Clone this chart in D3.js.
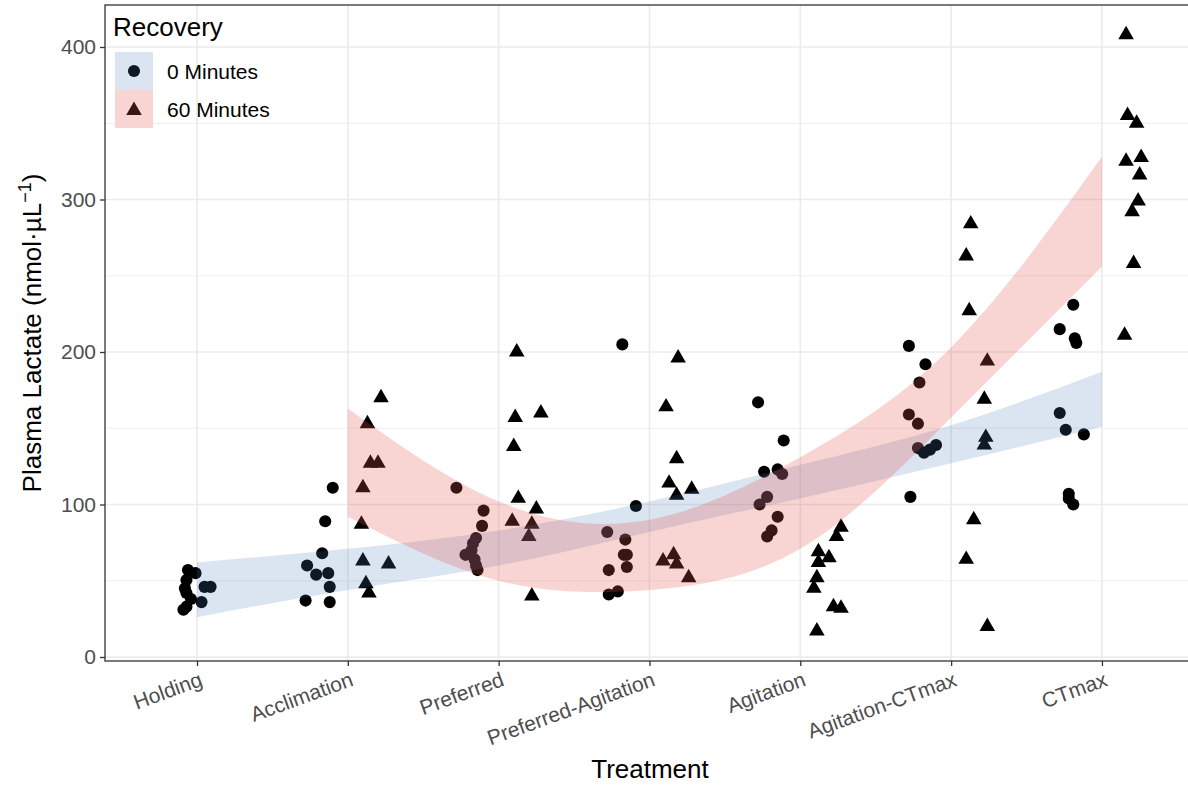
<!DOCTYPE html>
<html>
<head>
<meta charset="utf-8">
<script src="https://cdn.jsdelivr.net/npm/d3@7"></script>
<style>
  body { margin: 0; background: #fff; }
  text { font-family: "Liberation Sans", Arial, sans-serif; }
</style>
</head>
<body>
<div class="chart"></div>
<script>
var treatments = ["Holding", "Acclimation", "Preferred", "Preferred-Agitation",
                  "Agitation", "Agitation-CTmax", "CTmax"];
var yTicks = [0, 100, 200, 300, 400];
var yMinor = [50, 150, 250, 350];

// 0 minutes recovery (jittered treatment position, lactate)
var min0X = [0.94, 0.99, 0.93, 1.05, 1.09, 0.92, 0.93, 0.96, 1.03, 0.93, 0.91,
             1.90, 1.85, 1.83, 1.73, 1.79, 1.87, 1.88, 1.72, 1.88,
             2.72, 2.90, 2.89, 2.85, 2.83, 2.82, 2.78, 2.84, 2.85, 2.86,
             3.82, 3.91, 3.72, 3.84, 3.83, 3.85, 3.85, 3.73, 3.79, 3.73,
             4.72, 4.89, 4.76, 4.85, 4.88, 4.78, 4.73, 4.85, 4.81, 4.78,
             5.72, 5.83, 5.79, 5.72, 5.78, 5.78, 5.82, 5.86, 5.90, 5.73,
             6.81, 6.72, 6.82, 6.83, 6.72, 6.76, 6.88, 6.78, 6.78, 6.81];
var min0Y = [57, 55, 50.5, 46, 46, 45, 42, 38, 36, 33, 31,
             111, 89, 68, 60, 54, 55, 46, 37, 36,
             111, 96, 86, 78, 74.5, 70, 67, 64, 60, 57,
             205, 99, 82, 77, 67, 67, 59, 57, 43, 41,
             167, 142, 121.5, 123, 120, 105, 100, 92, 83, 79,
             204, 192, 180, 159, 153, 137, 134, 136, 139, 105,
             231, 215, 209, 206, 160, 149, 146, 107, 104, 100];

// 60 minutes recovery
var min60X = [2.22, 2.13, 2.15, 2.20, 2.10, 2.09, 2.10, 2.27, 2.12, 2.14,
              3.12, 3.11, 3.28, 3.10, 3.13, 3.25, 3.09, 3.22, 3.20, 3.22,
              4.19, 4.11, 4.18, 4.13, 4.28, 4.18, 4.09, 4.16, 4.18, 4.26,
              5.27, 5.24, 5.12, 5.19, 5.12, 5.11, 5.09, 5.22, 5.27, 5.11,
              6.13, 6.10, 6.12, 6.24, 6.22, 6.23, 6.22, 6.15, 6.10, 6.24,
              7.16, 7.17, 7.23, 7.16, 7.26, 7.25, 7.24, 7.20, 7.21, 7.15];
var min60Y = [171, 154, 128, 128, 112, 88, 64, 62, 49, 43,
              201, 158, 161, 139, 105, 98, 90, 88, 80, 41,
              197, 165, 131, 115, 111, 107, 64, 68, 62, 53,
              86, 80, 70, 66, 63, 53, 46, 34, 33, 18,
              285, 264, 228, 195, 170, 145, 140, 91, 65, 21,
              409, 356, 351, 326, 328.5, 317, 300, 293, 259, 212];

// fitted confidence bands
var band0X = [1, 2, 3, 4, 5, 6, 7];
var band0Lo = [26, 44, 60, 82, 104, 127, 151];
var band0Hi = [62, 71, 83, 102, 126, 152, 187];
var band60X = [2, 3, 4, 5, 6, 7];
var band60Lo = [92, 50, 44, 71, 157, 256];
var band60Hi = [163, 102, 90, 131, 203, 328];

var groups = ["0 Minutes", "60 Minutes"];
var bandFill = ["#4a78b8", "#e3534a"];
var bandAlpha = [0.2, 0.25];

var W = 1188, H = 786,
    panel = {left: 105, right: 1195, top: 5, bottom: 661};

var svg = d3.select(".chart")
  .append("svg")
    .attr("width", W)
    .attr("height", H);

var x = d3.scaleLinear()
    .domain([0.39, 7.617])
    .range([panel.left, panel.right]);

var y = d3.scaleLinear()
    .domain([0, 400])
    .range([657, 47]);

// grid
var grid = svg.append("g");
grid.selectAll(".minor")
    .data(yMinor)
  .enter().append("line")
    .attr("x1", panel.left).attr("x2", panel.right)
    .attr("y1", function(d) { return y(d); })
    .attr("y2", function(d) { return y(d); })
    .attr("stroke", "#ebebeb")
    .attr("stroke-width", 0.8);
grid.selectAll(".majorY")
    .data(yTicks)
  .enter().append("line")
    .attr("x1", panel.left).attr("x2", panel.right)
    .attr("y1", function(d) { return y(d); })
    .attr("y2", function(d) { return y(d); })
    .attr("stroke", "#ebebeb")
    .attr("stroke-width", 1.6);
grid.selectAll(".majorX")
    .data(d3.range(1, 8))
  .enter().append("line")
    .attr("y1", panel.top).attr("y2", panel.bottom)
    .attr("x1", function(d) { return x(d); })
    .attr("x2", function(d) { return x(d); })
    .attr("stroke", "#ebebeb")
    .attr("stroke-width", 1.6);

var circle = d3.symbol().type(d3.symbolCircle).size(115);
var triangle = d3.symbol().type(d3.symbolTriangle).size(105);

svg.append("g").selectAll("path")
    .data(d3.range(min0X.length))
  .enter().append("path")
    .attr("d", circle)
    .attr("transform", function(i) {
        return "translate(" + x(min0X[i]) + "," + y(min0Y[i]) + ")";
    })
    .attr("fill", "#000");

svg.append("g").selectAll("path")
    .data(d3.range(min60X.length))
  .enter().append("path")
    .attr("d", triangle)
    .attr("transform", function(i) {
        return "translate(" + x(min60X[i]) + "," + (y(min60Y[i]) + 1.5) + ")";
    })
    .attr("fill", "#000");

// ribbons drawn over the points
var area = d3.area()
    .x(function(d) { return x(d[0]); })
    .y0(function(d) { return y(d[1]); })
    .y1(function(d) { return y(d[2]); })
    .curve(d3.curveNatural);

svg.append("path")
    .datum(band0X.map(function(v, i) { return [v, band0Lo[i], band0Hi[i]]; }))
    .attr("d", area)
    .attr("fill", bandFill[0])
    .attr("fill-opacity", bandAlpha[0]);

svg.append("path")
    .datum(band60X.map(function(v, i) { return [v, band60Lo[i], band60Hi[i]]; }))
    .attr("d", area)
    .attr("fill", bandFill[1])
    .attr("fill-opacity", bandAlpha[1]);

// panel border
svg.append("rect")
    .attr("x", panel.left).attr("y", panel.top)
    .attr("width", panel.right - panel.left)
    .attr("height", panel.bottom - panel.top)
    .attr("fill", "none")
    .attr("stroke", "#333")
    .attr("stroke-width", 1.3);

// axes
var yaxis = d3.axisLeft(y)
    .tickValues(yTicks)
    .tickSize(5)
    .tickPadding(4);
var gy = svg.append("g")
    .attr("transform", "translate(" + panel.left + ",0)")
    .call(yaxis);
gy.select(".domain").remove();
gy.selectAll("line").attr("stroke", "#333").attr("stroke-width", 1.3);
gy.selectAll("text")
    .attr("fill", "#4d4d4d")
    .attr("font-size", "21px")
    .attr("font-family", "Liberation Sans, Arial, sans-serif");

var xaxis = d3.axisBottom(x)
    .tickValues(d3.range(1, 8))
    .tickSize(5)
    .tickFormat(function(d) { return treatments[d - 1]; });
var gx = svg.append("g")
    .attr("transform", "translate(0," + panel.bottom + ")")
    .call(xaxis);
gx.select(".domain").remove();
gx.selectAll("line").attr("stroke", "#333").attr("stroke-width", 1.3);
gx.selectAll("text")
    .attr("fill", "#4d4d4d")
    .attr("font-size", "21px")
    .attr("font-family", "Liberation Sans, Arial, sans-serif")
    .attr("text-anchor", "end")
    .attr("y", 0).attr("dy", null)
    .attr("transform", "translate(1,10) rotate(-20)")
    .attr("dominant-baseline", "hanging");

// axis titles
svg.append("text")
    .attr("x", (panel.left + panel.right) / 2)
    .attr("y", 778)
    .attr("text-anchor", "middle")
    .attr("font-size", "26px")
    .text("Treatment");

var ylab = svg.append("text")
    .attr("transform", "translate(41," + (panel.top + panel.bottom) / 2 + ") rotate(-90)")
    .attr("text-anchor", "middle")
    .attr("font-size", "26px");
ylab.append("tspan").text("Plasma Lactate (nmol\u00b7\u00b5L");
ylab.append("tspan").attr("dy", -10).attr("font-size", "18px").text("\u22121");
ylab.append("tspan").attr("dy", 10).text(")");

// legend
var legend = svg.append("g");
legend.append("text")
    .attr("x", 113).attr("y", 36)
    .attr("font-size", "26px")
    .text("Recovery");

var keys = legend.selectAll(".key")
    .data(groups)
  .enter().append("g")
    .attr("transform", function(d, i) { return "translate(115," + (52 + i * 38) + ")"; });
keys.append("rect")
    .attr("width", 38).attr("height", 38)
    .attr("fill", "#fff");
keys.append("path")
    .attr("d", function(d, i) { return i === 0 ? circle() : triangle(); })
    .attr("transform", function(d, i) { return "translate(19," + (i === 0 ? 19 : 20.5) + ")"; })
    .attr("fill", "#000");
keys.append("rect")
    .attr("width", 38).attr("height", 38)
    .attr("fill", function(d, i) { return bandFill[i]; })
    .attr("fill-opacity", function(d, i) { return bandAlpha[i]; });
keys.append("text")
    .attr("x", 52).attr("y", 19)
    .attr("dy", "0.36em")
    .attr("font-size", "21px")
    .text(function(d) { return d; });
</script>
</body>
</html>
